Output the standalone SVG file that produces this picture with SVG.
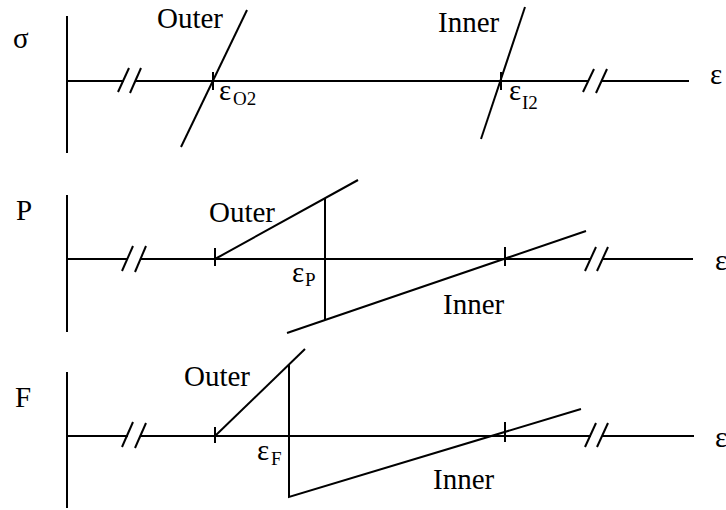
<svg xmlns="http://www.w3.org/2000/svg" width="726" height="510" viewBox="0 0 726 510" font-family="'Liberation Serif', 'Times New Roman', 'DejaVu Serif', serif">
<style>
line,polyline{stroke:#000;stroke-width:2;fill:none;stroke-linecap:butt}
text{font-family:'Liberation Serif','Times New Roman','DejaVu Serif',serif;fill:#000}
.lbl{font-size:29px}
.gr{font-size:29px}
.sub{font-size:19px}
</style>
<rect width="726" height="510" fill="#fff"/>
<g id="panel-sigma">
<text class="gr" x="13" y="48">σ</text>
<line x1="67" y1="16" x2="67" y2="153"/>
<line x1="67" y1="81" x2="124" y2="81"/>
<line x1="118" y1="92" x2="129" y2="68"/>
<line x1="130" y1="93" x2="141" y2="68"/>
<line x1="136" y1="81" x2="589" y2="81"/>
<line x1="583" y1="92" x2="594" y2="69"/>
<line x1="596" y1="93" x2="607" y2="69"/>
<line x1="601" y1="81" x2="689" y2="81"/>
<text class="gr" x="710" y="84">ε</text>
<line x1="213" y1="72" x2="213" y2="90"/>
<line x1="501" y1="72" x2="501" y2="90"/>
<line x1="181" y1="147" x2="247" y2="10"/>
<line x1="481" y1="139" x2="525" y2="7"/>
<text class="lbl" x="157" y="28">Outer</text>
<text class="lbl" x="438" y="32">Inner</text>
<text class="gr" x="219" y="100">ε</text><text class="sub" x="233" y="105">O2</text>
<text class="gr" x="509" y="100">ε</text><text class="sub" x="522" y="109">I2</text>
</g>
<g id="panel-P">
<text class="lbl" x="16" y="220">P</text>
<line x1="67" y1="195" x2="67" y2="332"/>
<line x1="67" y1="259" x2="128" y2="259"/>
<line x1="122" y1="271" x2="133" y2="246"/>
<line x1="135" y1="272" x2="146" y2="246"/>
<line x1="140" y1="259" x2="591" y2="259"/>
<line x1="585" y1="271" x2="596" y2="247"/>
<line x1="597" y1="271" x2="608" y2="247"/>
<line x1="602" y1="259" x2="693" y2="259"/>
<text class="gr" x="715" y="270">ε</text>
<line x1="215" y1="248" x2="215" y2="266"/>
<line x1="505" y1="247" x2="505" y2="266"/>
<line x1="215" y1="259" x2="358" y2="180"/>
<line x1="325" y1="198" x2="325" y2="320"/>
<line x1="287" y1="333" x2="586" y2="231"/>
<text class="lbl" x="209" y="222">Outer</text>
<text class="lbl" x="443" y="314">Inner</text>
<text class="gr" x="292" y="282">ε</text><text class="sub" x="305" y="286">P</text>
</g>
<g id="panel-F">
<text class="lbl" x="15" y="407">F</text>
<line x1="67" y1="372" x2="67" y2="508"/>
<line x1="67" y1="436" x2="128" y2="436"/>
<line x1="122" y1="447" x2="133" y2="422"/>
<line x1="135" y1="448" x2="146" y2="423"/>
<line x1="140" y1="436" x2="591" y2="436"/>
<line x1="585" y1="447" x2="596" y2="423"/>
<line x1="597" y1="447" x2="608" y2="423"/>
<line x1="602" y1="436" x2="694" y2="436"/>
<text class="gr" x="715" y="447">ε</text>
<line x1="215" y1="427" x2="215" y2="443"/>
<line x1="505" y1="422" x2="505" y2="442"/>
<line x1="215" y1="436" x2="305" y2="349"/>
<polyline points="289,364 289,497 581,409"/>
<text class="lbl" x="184" y="386">Outer</text>
<text class="lbl" x="433" y="489">Inner</text>
<text class="gr" x="257" y="460">ε</text><text class="sub" x="271" y="465">F</text>
</g>
</svg>
